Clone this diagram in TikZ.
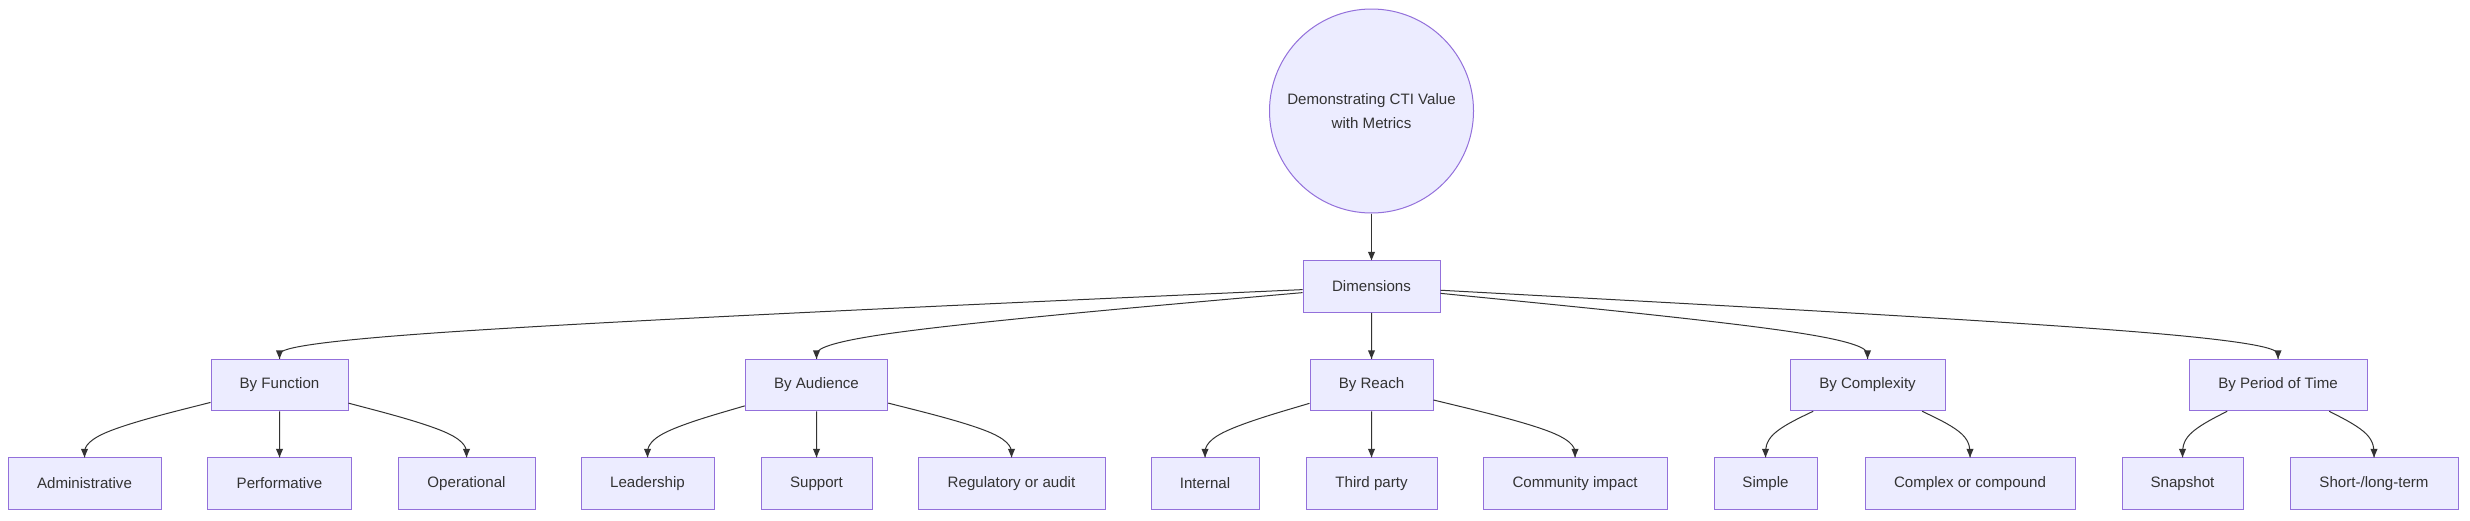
\documentclass[tikz,border=0pt]{standalone}
\usepackage{fontspec}
\setmainfont{Liberation Sans}
\usetikzlibrary{calc}
\definecolor{nodefill}{HTML}{ECECFF}
\definecolor{nodeline}{HTML}{9370DB}
\definecolor{ink}{HTML}{333333}
% B-spline connector (mermaid style): source node, target node, y of the middle rank
\newcommand{\bsedge}[3]{%
  \coordinate (mm) at (#2 |- 0,#3);
  \path (#1) -- (mm) coordinate[pos=0] (p0);
  \path (mm) -- (#2) coordinate[pos=1] (p2);
  \draw[edge] (p0) -- ($(p0)!1/6!(mm)$)
    .. controls ($(p0)!1/3!(mm)$) and ($(p0)!2/3!(mm)$) .. ($0.1666667*(p0)+0.6666667*(mm)+0.1666667*(p2)$)
    .. controls ($(mm)!1/3!(p2)$) and ($(mm)!2/3!(p2)$) .. ($(mm)!5/6!(p2)$) -- (p2);
  \fill[ink] (p2) -- ++(-3.6,-8.5) -- ++(7.2,0) -- cycle;
}
\begin{document}
\begin{tikzpicture}[x=1pt,y=-1pt,
  box/.style={draw=nodeline, fill=nodefill, line width=1pt, minimum height=51.5pt,
    inner sep=0pt, text=ink, font=\fontsize{15.1}{18}\selectfont},
  rootnode/.style={circle, draw=nodeline, fill=nodefill, line width=1pt, minimum size=204pt,
    inner sep=0pt, text=ink, align=center, font=\fontsize{15.1}{23.5}\selectfont},
  edge/.style={draw=ink, line width=1pt},
]
\fill[white] (0,0) rectangle (2470,520);
\useasboundingbox (0,0) rectangle (2470,520);

% root and level 1
\node[rootnode] (root) at (1371.5,111) {Demonstrating CTI Value\\with Metrics};
\node[box, minimum width=137pt] (dim) at (1371.5,286.5) {Dimensions};

% level 2
\node[box, minimum width=137pt] (fn) at (279.5,385) {By Function};
\node[box, minimum width=142.5pt] (aud) at (816.5,385) {By Audience};
\node[box, minimum width=123pt] (reach) at (1371.5,385) {By Reach};
\node[box, minimum width=155pt] (cplx) at (1867.5,385) {By Complexity};
\node[box, minimum width=178pt] (period) at (2278,385) {By Period of Time};

% level 3
\node[box, minimum width=153pt] (adm) at (84.5,483.5) {Administrative};
\node[box, minimum width=144pt] (perf) at (279.5,483.5) {Performative};
\node[box, minimum width=137pt] (oper) at (466.5,483.5) {Operational};
\node[box, minimum width=133pt] (lead) at (647.5,483.5) {Leadership};
\node[box, minimum width=111pt] (supp) at (816.5,483.5) {Support};
\node[box, minimum width=187pt] (reg) at (1011.5,483.5) {Regulatory or audit};
\node[box, minimum width=108pt] (intl) at (1205,483.5) {Internal};
\node[box, minimum width=131pt] (third) at (1371.5,483.5) {Third party};
\node[box, minimum width=184pt] (comm) at (1575,483.5) {Community impact};
\node[box, minimum width=103pt] (simple) at (1765.5,483.5) {Simple};
\node[box, minimum width=210pt] (complex) at (1970,483.5) {Complex or compound};
\node[box, minimum width=121pt] (snap) at (2182.5,483.5) {Snapshot};
\node[box, minimum width=168pt] (short) at (2374,483.5) {Short-/long-term};

% connectors
\draw[edge] (root) -- (dim);
\fill[ink] (dim.north) -- ++(-3.6,-8.5) -- ++(7.2,0) -- cycle;

\bsedge{dim}{fn}{335.75}
\bsedge{dim}{aud}{335.75}
\bsedge{dim}{reach}{335.75}
\bsedge{dim}{cplx}{335.75}
\bsedge{dim}{period}{335.75}

\bsedge{fn}{adm}{434.25}
\bsedge{fn}{perf}{434.25}
\bsedge{fn}{oper}{434.25}
\bsedge{aud}{lead}{434.25}
\bsedge{aud}{supp}{434.25}
\bsedge{aud}{reg}{434.25}
\bsedge{reach}{intl}{434.25}
\bsedge{reach}{third}{434.25}
\bsedge{reach}{comm}{434.25}
\bsedge{cplx}{simple}{434.25}
\bsedge{cplx}{complex}{434.25}
\bsedge{period}{snap}{434.25}
\bsedge{period}{short}{434.25}
\end{tikzpicture}
\end{document}
